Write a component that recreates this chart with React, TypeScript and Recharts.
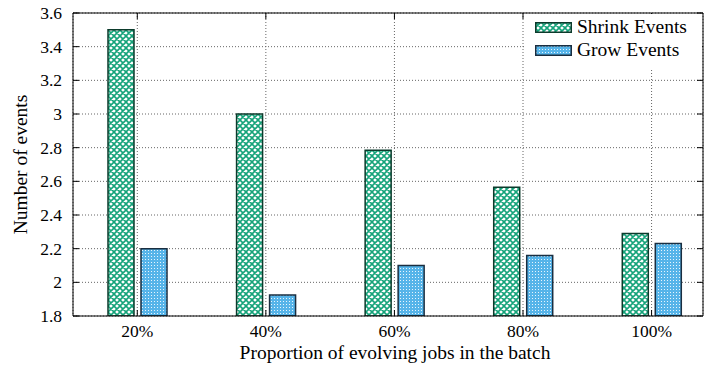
import { Bar, BarChart, CartesianGrid, Label, XAxis, YAxis } from 'recharts'

const categories = ['20%', '40%', '60%', '80%', '100%']
const shrinkEvents = [3.5, 3.0, 2.785, 2.565, 2.29]
const growEvents = [2.2, 1.925, 2.1, 2.16, 2.23]
const yTicks = [1.8, 2, 2.2, 2.4, 2.6, 2.8, 3, 3.2, 3.4, 3.6]
const xTicks = [0, 1, 2, 3, 4]

const data = categories.map((cat, i) => ({
  x: i,
  cat,
  shrink: shrinkEvents[i],
  grow: growEvents[i],
}))

const FONT = "'Liberation Serif', 'Times New Roman', serif"
const TICK_FS = 17.5
const LABEL_FS = 19.5
const GREEN = '#15a37a'
const GREEN_EDGE = '#0c3b2c'
const BLUE = '#56b4e9'
const BLUE_EDGE = '#1a2e40'

function Patterns({ prefix }: { prefix: string }) {
  return (
    <defs>
      <pattern id={`${prefix}-shrink`} width="6" height="6" patternUnits="userSpaceOnUse">
        <rect width="6" height="6" fill="#fff" />
        <path d="M0,0 L6,6 M6,0 L0,6 M-1,5 L1,7 M5,-1 L7,1 M5,7 L7,5 M-1,1 L1,-1" stroke={GREEN} strokeWidth="1.6" />
      </pattern>
      <pattern id={`${prefix}-grow`} width="3" height="3" patternUnits="userSpaceOnUse">
        <rect width="3" height="3" fill={BLUE} />
        <rect x="1" y="1" width="1" height="1" fill="#e8f5fd" />
      </pattern>
    </defs>
  )
}

const fmt = (v: number) => String(Number(v.toFixed(1)))

function BottomTick(props: any) {
  const { x, y, payload } = props
  return (
    <g>
      <line x1={x} y1={y} x2={x} y2={y - 6} stroke="#000" />
      <text x={x} y={y + 21} textAnchor="middle" fontFamily={FONT} fontSize={TICK_FS} fill="#000">
        {categories[payload.value]}
      </text>
    </g>
  )
}

function LeftTick(props: any) {
  const { x, y, payload } = props
  return (
    <g>
      <line x1={x} y1={y} x2={x + 6} y2={y} stroke="#000" />
      <text x={x - 11} y={y + 6} textAnchor="end" fontFamily={FONT} fontSize={TICK_FS} fill="#000">
        {fmt(payload.value)}
      </text>
    </g>
  )
}

function TopTick(props: any) {
  const { x, y } = props
  return <line x1={x} y1={y} x2={x} y2={y + 6} stroke="#000" />
}

function RightTick(props: any) {
  const { x, y } = props
  return <line x1={x} y1={y} x2={x - 6} y2={y} stroke="#000" />
}

function LegendBox() {
  const rows = [
    { name: 'Shrink Events', fill: 'lg-shrink', edge: GREEN_EDGE, top: 8 },
    { name: 'Grow Events', fill: 'lg-grow', edge: BLUE_EDGE, top: 31 },
  ]
  return (
    <div
      style={{
        position: 'absolute',
        left: 526,
        top: 14,
        width: 176,
        height: 54,
        background: '#fff',
      }}
    >
      <svg width="0" height="0" style={{ position: 'absolute' }}>
        <Patterns prefix="lg" />
      </svg>
      {rows.map((r) => (
        <div key={r.name}>
          <svg
            width="37"
            height="11"
            style={{ position: 'absolute', left: 9, top: r.top }}
          >
            <rect x="0.75" y="0.75" width="35.5" height="9.5" fill={`url(#${r.fill})`} stroke={r.edge} strokeWidth="1.5" />
          </svg>
          <div
            style={{
              position: 'absolute',
              left: 51,
              top: r.top - 7,
              fontFamily: FONT,
              fontSize: LABEL_FS,
              lineHeight: '24px',
              whiteSpace: 'nowrap',
              color: '#000',
            }}
          >
            {r.name}
          </div>
        </div>
      ))}
    </div>
  )
}

export default function App() {
  return (
    <div style={{ position: 'absolute', left: 0, top: 0, width: 709, height: 367, background: '#fff' }}>
      <BarChart
        width={709}
        height={367}
        data={data}
        margin={{ top: 12, right: 5, bottom: 1, left: 17 }}
        barSize={26}
        barGap={7}
      >
        <Patterns prefix="ch" />
        <CartesianGrid stroke="#666" strokeDasharray="1 2" />
        <XAxis
          dataKey="x"
          type="number"
          domain={[-0.5, 4.4]}
          ticks={xTicks}
          allowDataOverflow
          height={50}
          tickSize={0}
          tickMargin={0}
          tickLine={false}
          axisLine={{ stroke: '#000' }}
          tick={<BottomTick />}
        >
          <Label
            value="Proportion of evolving jobs in the batch"
            position="insideBottom"
            offset={7}
            dx={7}
            style={{ fontFamily: FONT, fontSize: LABEL_FS, fill: '#000' }}
          />
        </XAxis>
        <XAxis
          xAxisId="top"
          orientation="top"
          dataKey="x"
          type="number"
          domain={[-0.5, 4.4]}
          ticks={xTicks}
          allowDataOverflow
          height={1}
          tickSize={0}
          tickMargin={0}
          tickLine={false}
          axisLine={{ stroke: '#000' }}
          tick={<TopTick />}
        />
        <YAxis
          type="number"
          domain={[1.8, 3.6]}
          ticks={yTicks}
          allowDataOverflow
          width={56}
          tickSize={0}
          tickMargin={0}
          tickLine={false}
          axisLine={{ stroke: '#000' }}
          tick={<LeftTick />}
        >
          <Label
            value="Number of events"
            angle={-90}
            position="insideLeft"
            offset={3}
            style={{ fontFamily: FONT, fontSize: LABEL_FS, fill: '#000', textAnchor: 'middle' }}
          />
        </YAxis>
        <YAxis
          yAxisId="right"
          orientation="right"
          type="number"
          domain={[1.8, 3.6]}
          ticks={yTicks}
          allowDataOverflow
          width={1}
          tickSize={0}
          tickMargin={0}
          tickLine={false}
          axisLine={{ stroke: '#000' }}
          tick={<RightTick />}
        />
        <Bar
          dataKey="shrink"
          name="Shrink Events"
          fill="url(#ch-shrink)"
          stroke={GREEN_EDGE}
          strokeWidth={1.5}
          isAnimationActive={false}
        />
        <Bar
          dataKey="grow"
          name="Grow Events"
          fill="url(#ch-grow)"
          stroke={BLUE_EDGE}
          strokeWidth={1.5}
          isAnimationActive={false}
        />
      </BarChart>
      <LegendBox />
    </div>
  )
}
